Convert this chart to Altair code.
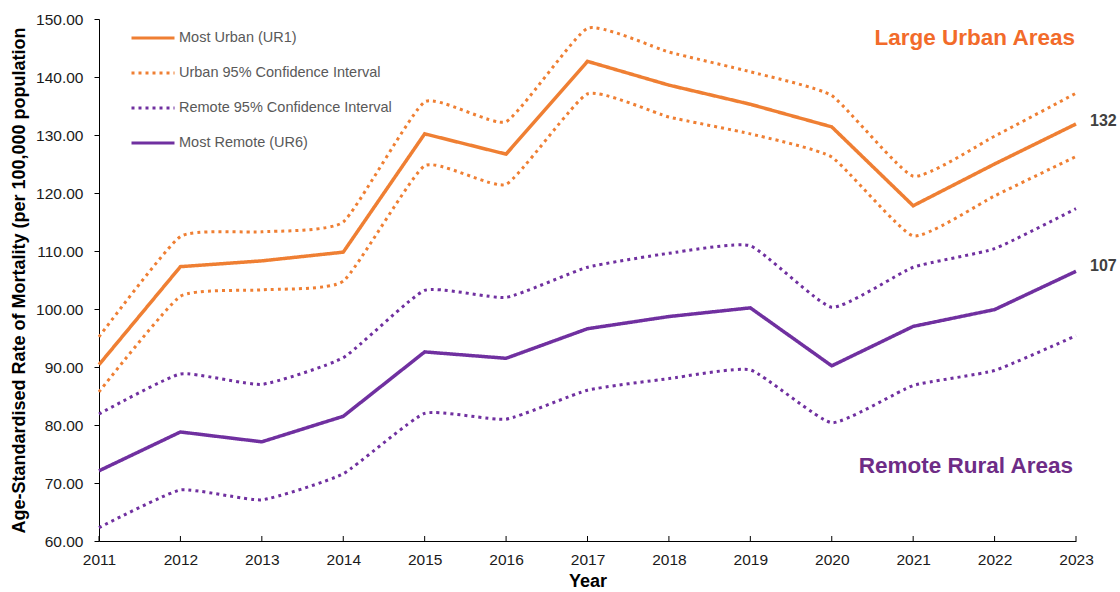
import altair as alt
import pandas as pd

years = list(range(2011, 2024))

most_urban = [90.4, 107.3, 108.3, 109.8, 130.2, 126.7, 142.7, 138.6, 135.3, 131.4, 117.8, 125.0, 131.9]
urban_upper = [95.2, 112.5, 113.3, 115.0, 135.7, 132.3, 148.4, 144.3, 140.9, 136.8, 122.9, 129.8, 137.2]
urban_lower = [85.7, 102.2, 103.3, 104.8, 124.7, 121.5, 137.1, 133.1, 130.2, 126.2, 112.6, 119.5, 126.3]

most_remote = [72.1, 78.8, 77.1, 81.5, 92.6, 91.5, 96.6, 98.7, 100.2, 90.2, 97.0, 99.9, 106.5]
remote_upper = [81.9, 88.8, 87.0, 91.6, 103.2, 102.0, 107.2, 109.6, 110.9, 100.3, 107.2, 110.4, 117.3]
remote_lower = [62.3, 68.8, 67.1, 71.6, 82.0, 81.0, 86.0, 88.0, 89.5, 80.4, 86.8, 89.4, 95.4]

series_names = [
    "Most Urban (UR1)",
    "Urban 95% Confidence Interval",
    "Remote 95% Confidence Interval",
    "Most Remote (UR6)",
]
series_colors = ["#EF7F33", "#EF7F33", "#7030A0", "#7030A0"]
series_dash = [[1, 0], [3, 4], [3, 4], [1, 0]]

end_labels = [132, 107]

ORANGE_TEXT = "#F26B2A"
PURPLE_TEXT = "#6E2C86"
FONT = "Liberation Sans"
PLOT_H = 522

rows = []
for name, group, vals in [
    ("Most Urban (UR1)", "urban_solid", most_urban),
    ("Urban 95% Confidence Interval", "urban_hi", urban_upper),
    ("Urban 95% Confidence Interval", "urban_lo", urban_lower),
    ("Remote 95% Confidence Interval", "remote_hi", remote_upper),
    ("Remote 95% Confidence Interval", "remote_lo", remote_lower),
    ("Most Remote (UR6)", "remote_solid", most_remote),
]:
    for y, v in zip(years, vals):
        rows.append({"Year": y, "Rate": v, "Series": name, "Line": group})
df = pd.DataFrame(rows)

x_scale = alt.Scale(domain=[2011, 2023], nice=False)
x_enc = alt.X(
    "Year:Q",
    scale=x_scale,
    axis=alt.Axis(
        title="Year",
        values=years,
        format="d",
        labelFontSize=15.5,
        titleFontSize=18,
        titleFontWeight="bold",
        titlePadding=5,
        labelPadding=11,
        ticks=False,
        grid=False,
        domainColor="#000000",
        labelColor="#1a1a1a",
        titleColor="#000000",
        labelFlush=False,
    ),
)
y_enc = alt.Y(
    "Rate:Q",
    scale=alt.Scale(domain=[60, 150], nice=False, zero=False),
    axis=alt.Axis(
        title="Age-Standardised Rate of Mortality (per 100,000 population",
        values=list(range(60, 151, 10)),
        format=".2f",
        labelFontSize=15.5,
        titleFontSize=18,
        titleFontWeight="bold",
        titlePadding=7,
        labelPadding=11,
        tickSize=5,
        grid=False,
        domainColor="#000000",
        tickColor="#000000",
        labelColor="#1a1a1a",
        titleColor="#000000",
    ),
)

shared_legend = alt.Legend(
    title=None,
    orient="none",
    legendX=31,
    legendY=-4,
    symbolType="stroke",
    symbolSize=1849,
    symbolStrokeWidth=3,
    labelFontSize=14.5,
    labelColor="#595959",
    labelFont=FONT,
    labelOffset=3,
    labelLimit=400,
    rowPadding=5,
    padding=0,
)

color_enc = alt.Color(
    "Series:N",
    scale=alt.Scale(domain=series_names, range=series_colors),
    sort=series_names,
    legend=shared_legend,
)
dash_enc = alt.StrokeDash(
    "Series:N",
    scale=alt.Scale(domain=series_names, range=series_dash),
    sort=series_names,
    legend=shared_legend,
)

solid = (
    alt.Chart(df)
    .transform_filter(alt.FieldOneOfPredicate(field="Series", oneOf=["Most Urban (UR1)", "Most Remote (UR6)"]))
    .mark_line(strokeWidth=3.5, strokeJoin="miter")
    .encode(x=x_enc, y=y_enc, color=color_enc, strokeDash=dash_enc, detail="Line:N")
)
dotted = (
    alt.Chart(df)
    .transform_filter(
        alt.FieldOneOfPredicate(
            field="Series",
            oneOf=["Urban 95% Confidence Interval", "Remote 95% Confidence Interval"],
        )
    )
    .mark_line(strokeWidth=3, interpolate="cardinal", tension=0.55)
    .encode(x=x_enc, y=y_enc, color=color_enc, strokeDash=dash_enc, detail="Line:N")
)

# x-axis tick marks drawn inward, rising from the baseline
inner_ticks = (
    alt.Chart(pd.DataFrame({"Year": years}))
    .mark_rule(color="#000000", strokeWidth=1)
    .encode(x=alt.X("Year:Q", scale=x_scale), y=alt.value(PLOT_H - 5), y2=alt.value(PLOT_H))
)

label_df = pd.DataFrame({"Year": [2023, 2023], "Rate": end_labels, "Text": [str(v) for v in end_labels]})
end_text = (
    alt.Chart(label_df)
    .mark_text(align="left", dx=14, dy=-2, fontSize=16, fontWeight="bold", color="#404040", font=FONT)
    .encode(x="Year:Q", y="Rate:Q", text="Text:N")
)

urban_title = (
    alt.Chart(pd.DataFrame({"Text": ["Large Urban Areas"], "Rate": [146.8]}))
    .mark_text(align="right", baseline="middle", fontSize=22.5, fontWeight="bold", font=FONT, color=ORANGE_TEXT)
    .encode(x=alt.value(976), y="Rate:Q", text="Text:N")
)
remote_title = (
    alt.Chart(pd.DataFrame({"Text": ["Remote Rural Areas"], "Rate": [73.0]}))
    .mark_text(align="right", baseline="middle", fontSize=22.5, fontWeight="bold", font=FONT, color=PURPLE_TEXT)
    .encode(x=alt.value(974), y="Rate:Q", text="Text:N")
)

chart = (
    alt.layer(inner_ticks, dotted, solid, end_text, urban_title, remote_title)
    .properties(
        width=977,
        height=PLOT_H,
        autosize=alt.AutoSizeParams(type="none"),
        padding={"left": 99, "top": 19, "right": 44, "bottom": 51},
        background="white",
    )
    .configure_view(stroke=None)
    .configure_axis(labelFont=FONT, titleFont=FONT)
    .configure_legend(labelFont=FONT)
)

chart.save("out.html", embed_options={"renderer": "svg", "actions": False})
